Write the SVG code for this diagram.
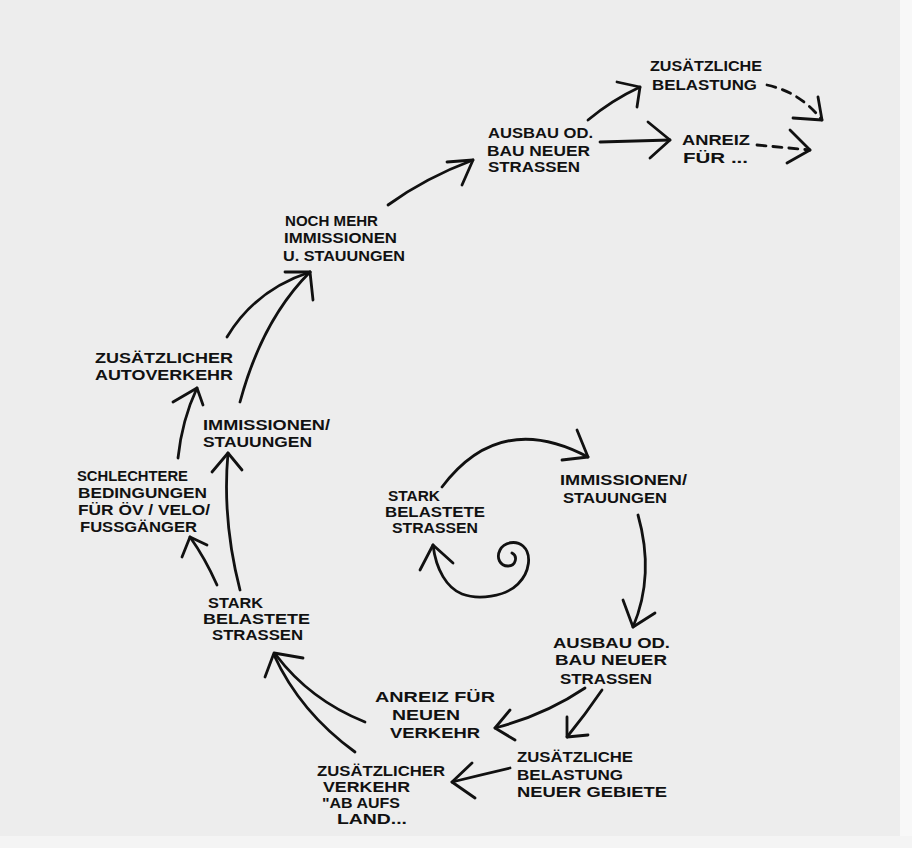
<svg xmlns="http://www.w3.org/2000/svg" width="912" height="848" viewBox="0 0 912 848">
<style>
  .t { font-family: "Liberation Sans", "DejaVu Sans", sans-serif; font-size: 14px; font-weight: bold; fill: #111; }
  .c { fill: none; stroke: #111; stroke-width: 2.8; stroke-linecap: round; stroke-linejoin: round; }
  .d { stroke-dasharray: 9 7; }
</style>
<rect x="0" y="0" width="912" height="848" fill="#ededed"/>
<rect x="900" y="0" width="12" height="848" fill="#f8f8f8"/>
<rect x="0" y="836" width="912" height="12" fill="#f4f4f4"/>

<g id="connectors">
  <path class="c" d="M588,120 Q612,100 640,87"/>
  <polyline class="c" points="617,82 640,87 637,107"/>
  <path class="c" d="M600,142 L670,140"/>
  <polyline class="c" points="648,122 670,140 650,158"/>
  <path class="c d" d="M767,85 Q800,92 822,120"/>
  <polyline class="c" points="793,118 822,120 818,97"/>
  <path class="c d" d="M757,145 L810,150"/>
  <polyline class="c" points="790,130 810,150 787,163"/>
  <path class="c" d="M388,205 Q425,178 473,160"/>
  <polyline class="c" points="447,162 473,160 462,185"/>
  <path class="c" d="M227,337 Q255,290 310,272"/>
  <path class="c" d="M240,402 Q262,320 310,272"/>
  <polyline class="c" points="285,272 310,272 313,300"/>
  <path class="c" d="M178,458 Q182,420 197,388"/>
  <polyline class="c" points="173,402 197,388 203,405"/>
  <path class="c" d="M240,590 Q222,520 228,453"/>
  <polyline class="c" points="212,472 228,453 242,470"/>
  <path class="c" d="M217,585 Q205,558 190,537"/>
  <polyline class="c" points="182,557 190,537 207,545"/>
  <path class="c" d="M365,722 Q310,700 276,655"/>
  <path class="c" d="M355,752 Q300,712 274,655"/>
  <polyline class="c" points="265,677 274,653 303,658"/>
  <path class="c" d="M585,688 Q545,715 495,728"/>
  <polyline class="c" points="510,710 495,728 515,740"/>
  <path class="c" d="M602,690 Q585,715 567,737"/>
  <polyline class="c" points="567,717 567,737 588,735"/>
  <path class="c" d="M510,768 Q480,775 452,782"/>
  <polyline class="c" points="472,763 452,782 475,798"/>
  <path class="c" d="M638,515 Q655,575 633,627"/>
  <polyline class="c" points="623,600 633,627 655,613"/>
  <path class="c" d="M442,487 Q500,410 588,457"/>
  <polyline class="c" points="577,430 588,457 562,460"/>
  <path class="c" d="M512,553 C518,556 516,566 508,566 C500,566 496,558 500,550 C504,542 516,540 523,546 C532,554 530,572 518,584 C505,597 478,600 462,594 C447,588 436,570 433,545"/>
  <polyline class="c" points="420,570 433,545 453,563"/>
</g>

<g id="n-belastung-top">
  <text class="t" x="650" y="71" textLength="112" lengthAdjust="spacingAndGlyphs">ZUSÄTZLICHE</text>
  <text class="t" x="652" y="90" textLength="105" lengthAdjust="spacingAndGlyphs">BELASTUNG</text>
</g>
<g id="n-ausbau-top">
  <text class="t" x="488" y="138" textLength="105" lengthAdjust="spacingAndGlyphs">AUSBAU OD.</text>
  <text class="t" x="487" y="156" textLength="103" lengthAdjust="spacingAndGlyphs">BAU NEUER</text>
  <text class="t" x="488" y="172" textLength="92" lengthAdjust="spacingAndGlyphs">STRASSEN</text>
</g>
<g id="n-anreiz-top">
  <text class="t" x="682" y="145" textLength="68" lengthAdjust="spacingAndGlyphs">ANREIZ</text>
  <text class="t" x="683" y="163" textLength="65" lengthAdjust="spacingAndGlyphs">FÜR ...</text>
</g>
<g id="n-noch-mehr">
  <text class="t" x="285" y="226" textLength="93" lengthAdjust="spacingAndGlyphs">NOCH MEHR</text>
  <text class="t" x="284" y="243" textLength="113" lengthAdjust="spacingAndGlyphs">IMMISSIONEN</text>
  <text class="t" x="283" y="261" textLength="122" lengthAdjust="spacingAndGlyphs">U. STAUUNGEN</text>
</g>
<g id="n-autoverkehr">
  <text class="t" x="95" y="363" textLength="138" lengthAdjust="spacingAndGlyphs">ZUSÄTZLICHER</text>
  <text class="t" x="95" y="380" textLength="138" lengthAdjust="spacingAndGlyphs">AUTOVERKEHR</text>
</g>
<g id="n-immissionen-left">
  <text class="t" x="203" y="430" textLength="127" lengthAdjust="spacingAndGlyphs">IMMISSIONEN/</text>
  <text class="t" x="203" y="447" textLength="109" lengthAdjust="spacingAndGlyphs">STAUUNGEN</text>
</g>
<g id="n-schlechtere">
  <text class="t" x="77" y="481" textLength="111" lengthAdjust="spacingAndGlyphs">SCHLECHTERE</text>
  <text class="t" x="78" y="498" textLength="129" lengthAdjust="spacingAndGlyphs">BEDINGUNGEN</text>
  <text class="t" x="78" y="515" textLength="132" lengthAdjust="spacingAndGlyphs">FÜR ÖV / VELO/</text>
  <text class="t" x="80" y="532" textLength="117" lengthAdjust="spacingAndGlyphs">FUSSGÄNGER</text>
</g>
<g id="n-stark-left">
  <text class="t" x="208" y="608" textLength="55" lengthAdjust="spacingAndGlyphs">STARK</text>
  <text class="t" x="203" y="624" textLength="107" lengthAdjust="spacingAndGlyphs">BELASTETE</text>
  <text class="t" x="212" y="640" textLength="91" lengthAdjust="spacingAndGlyphs">STRASSEN</text>
</g>
<g id="n-stark-center">
  <text class="t" x="388" y="501" textLength="52" lengthAdjust="spacingAndGlyphs">STARK</text>
  <text class="t" x="385" y="517" textLength="100" lengthAdjust="spacingAndGlyphs">BELASTETE</text>
  <text class="t" x="392" y="533" textLength="86" lengthAdjust="spacingAndGlyphs">STRASSEN</text>
</g>
<g id="n-immissionen-right">
  <text class="t" x="560" y="485" textLength="127" lengthAdjust="spacingAndGlyphs">IMMISSIONEN/</text>
  <text class="t" x="563" y="503" textLength="104" lengthAdjust="spacingAndGlyphs">STAUUNGEN</text>
</g>
<g id="n-ausbau-bottom">
  <text class="t" x="553" y="648" textLength="117" lengthAdjust="spacingAndGlyphs">AUSBAU OD.</text>
  <text class="t" x="555" y="665" textLength="112" lengthAdjust="spacingAndGlyphs">BAU NEUER</text>
  <text class="t" x="560" y="684" textLength="92" lengthAdjust="spacingAndGlyphs">STRASSEN</text>
</g>
<g id="n-anreiz-bottom">
  <text class="t" x="375" y="702" textLength="120" lengthAdjust="spacingAndGlyphs">ANREIZ FÜR</text>
  <text class="t" x="392" y="720" textLength="68" lengthAdjust="spacingAndGlyphs">NEUEN</text>
  <text class="t" x="390" y="738" textLength="90" lengthAdjust="spacingAndGlyphs">VERKEHR</text>
</g>
<g id="n-belastung-bottom">
  <text class="t" x="517" y="762" textLength="116" lengthAdjust="spacingAndGlyphs">ZUSÄTZLICHE</text>
  <text class="t" x="517" y="780" textLength="106" lengthAdjust="spacingAndGlyphs">BELASTUNG</text>
  <text class="t" x="517" y="797" textLength="150" lengthAdjust="spacingAndGlyphs">NEUER GEBIETE</text>
</g>
<g id="n-verkehr-land">
  <text class="t" x="317" y="776" textLength="128" lengthAdjust="spacingAndGlyphs">ZUSÄTZLICHER</text>
  <text class="t" x="323" y="792" textLength="87" lengthAdjust="spacingAndGlyphs">VERKEHR</text>
  <text class="t" x="322" y="808" textLength="78" lengthAdjust="spacingAndGlyphs">"AB AUFS</text>
  <text class="t" x="337" y="824" textLength="70" lengthAdjust="spacingAndGlyphs">LAND...</text>
</g>
</svg>
